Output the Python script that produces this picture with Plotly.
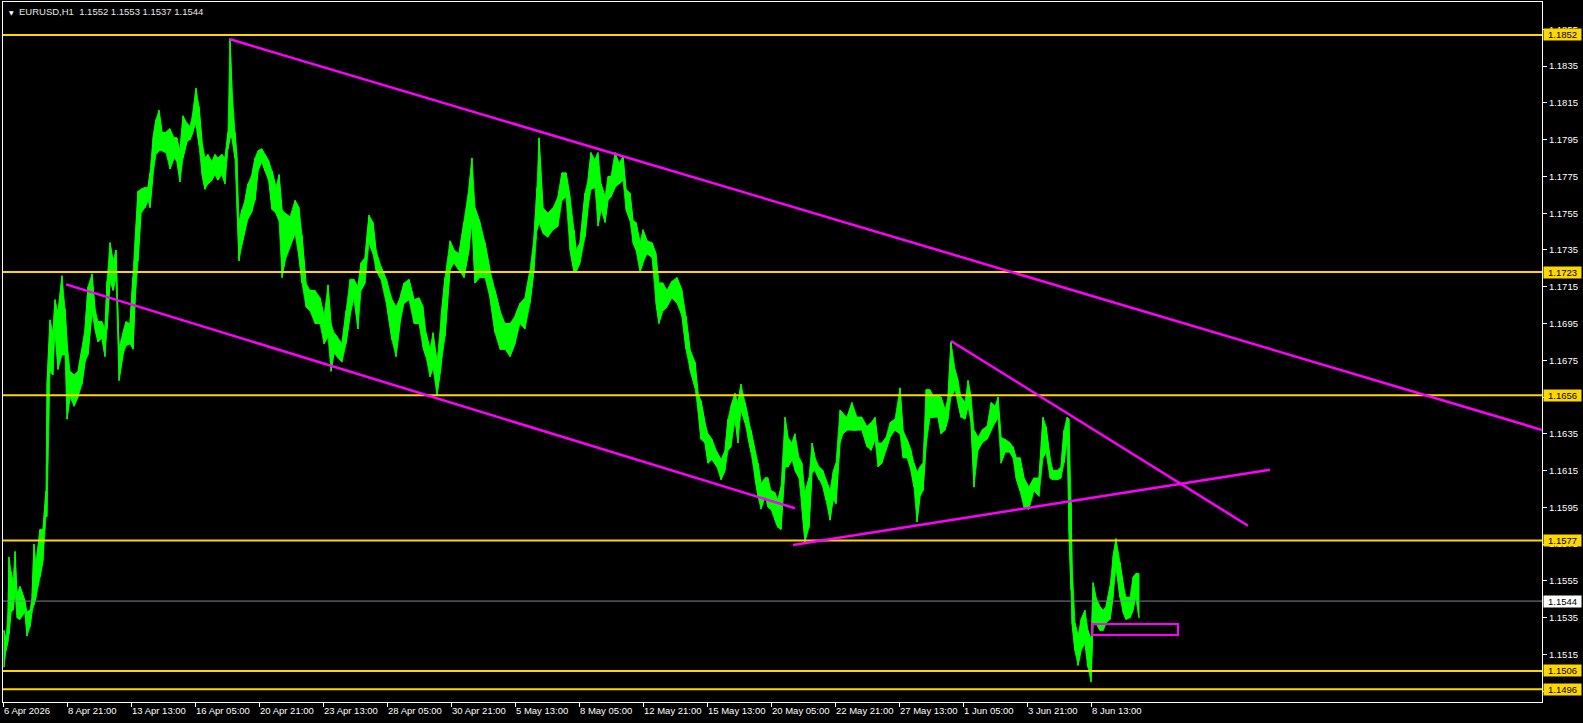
import plotly.graph_objects as go

# ---------------- data ----------------
symbol_title = "EURUSD,H1\u00a0\u00a01.1552 1.1553 1.1537 1.1544"

bar_idx = [
    1, 3, 5, 6, 8, 10, 12, 14, 17, 22,
    24, 27, 29, 31, 33, 37, 40, 43, 44, 47,
    50, 52, 55, 59, 62, 64, 67, 71, 75, 79,
    82, 85, 89, 92, 95, 99, 102, 104, 107, 110,
    113, 116, 120, 123, 127, 130, 132, 135, 138, 142,
    145, 147, 150, 153, 156, 159, 163, 167, 171, 174,
    177, 180, 184, 187, 190, 193, 196, 199, 202, 205,
    209, 212, 215, 219, 222, 225, 227, 229, 232, 234,
    236, 239, 242, 245, 249, 252, 255, 259, 262, 266,
    269, 273, 276, 279, 282, 287, 292, 296, 299, 303,
    307, 312, 317, 321, 325, 328, 331, 334, 339, 343,
    347, 351, 355, 358, 362, 366, 370, 373, 378, 384,
    389, 393, 397, 401, 406, 411, 416, 420, 423, 427,
    430, 434, 438, 442, 447, 451, 456, 461, 466, 469,
    472, 477, 482, 487, 492, 497, 502, 507, 512, 517,
    522, 527, 531, 534, 536, 540, 545, 550, 555, 559,
    563, 567, 571, 573, 577, 582, 585, 588, 592, 595,
    598, 602, 605, 608, 612, 616, 620, 623, 627, 630,
    633, 637, 640, 644, 649, 653, 656, 660, 664, 669,
    674, 679, 683, 687, 692, 695, 698, 702, 705, 709,
    714, 718, 722, 725, 728, 732, 735, 738, 742, 745,
    748, 752, 755, 758, 762, 765, 768, 772, 775, 778,
    782, 785, 789, 792, 796, 799, 802, 806, 809, 812,
    816, 820, 823, 827, 830, 833, 837, 840, 844, 849,
    854, 859, 864, 868, 872, 875, 879, 883, 887, 892,
    897, 900, 904, 908, 911, 914, 917, 920, 923, 927,
    931, 935, 938, 942, 945, 948, 952, 955, 958, 962,
    965, 968, 971, 975, 979, 984, 988, 992, 995, 998,
    1002, 1007, 1010, 1013, 1017, 1021, 1026, 1031, 1036, 1040,
    1043, 1047, 1050, 1054, 1058, 1061, 1064, 1066, 1068, 1069,
    1072, 1075, 1078, 1082, 1085, 1088, 1090, 1093, 1097, 1100,
    1103, 1107, 1110, 1113, 1117, 1120, 1123, 1127, 1130, 1133,
    1136,
]

bar_high = [
    1.1528, 1.1523, 1.1538, 1.1568, 1.1560, 1.1554, 1.1571, 1.1548, 1.1552, 1.1544,
    1.1538, 1.1539, 1.1546, 1.1575, 1.1564, 1.1583, 1.1583, 1.1604, 1.1662, 1.1697,
    1.1690, 1.1708, 1.1701, 1.1721, 1.1703, 1.1685, 1.1669, 1.1667, 1.1669, 1.1681,
    1.1692, 1.1715, 1.1722, 1.1703, 1.1696, 1.1696, 1.1692, 1.1718, 1.1739, 1.1729,
    1.1735, 1.1682, 1.1690, 1.1696, 1.1695, 1.1720, 1.1738, 1.1767, 1.1768, 1.1769,
    1.1769, 1.1777, 1.1796, 1.1806, 1.1811, 1.1799, 1.1799, 1.1801, 1.1796, 1.1796,
    1.1789, 1.1808, 1.1804, 1.1802, 1.1810, 1.1823, 1.1813, 1.1794, 1.1785, 1.1787,
    1.1783, 1.1787, 1.1785, 1.1787, 1.1785, 1.1799, 1.1850, 1.1822, 1.1799, 1.1785,
    1.1750, 1.1757, 1.1762, 1.1771, 1.1776, 1.1785, 1.1789, 1.1790, 1.1787, 1.1783,
    1.1778, 1.1769, 1.1776, 1.1757, 1.1755, 1.1753, 1.1762, 1.1758, 1.1743, 1.1717,
    1.1713, 1.1713, 1.1709, 1.1699, 1.1716, 1.1695, 1.1690, 1.1688, 1.1684, 1.1702,
    1.1719, 1.1719, 1.1715, 1.1728, 1.1731, 1.1754, 1.1750, 1.1735, 1.1726, 1.1718,
    1.1708, 1.1704, 1.1709, 1.1717, 1.1719, 1.1708, 1.1709, 1.1704, 1.1690, 1.1681,
    1.1690, 1.1674, 1.1699, 1.1720, 1.1740, 1.1735, 1.1733, 1.1750, 1.1769, 1.1785,
    1.1758, 1.1750, 1.1739, 1.1724, 1.1713, 1.1702, 1.1695, 1.1695, 1.1699, 1.1706,
    1.1709, 1.1724, 1.1742, 1.1769, 1.1796, 1.1758, 1.1755, 1.1758, 1.1764, 1.1777,
    1.1777, 1.1764, 1.1746, 1.1735, 1.1739, 1.1766, 1.1773, 1.1788, 1.1784, 1.1788,
    1.1771, 1.1764, 1.1775, 1.1775, 1.1788, 1.1782, 1.1786, 1.1768, 1.1766, 1.1751,
    1.1750, 1.1739, 1.1746, 1.1740, 1.1739, 1.1733, 1.1717, 1.1717, 1.1713, 1.1718,
    1.1720, 1.1713, 1.1699, 1.1681, 1.1674, 1.1657, 1.1653, 1.1641, 1.1635, 1.1632,
    1.1625, 1.1621, 1.1626, 1.1643, 1.1650, 1.1657, 1.1652, 1.1662, 1.1652, 1.1644,
    1.1637, 1.1625, 1.1619, 1.1608, 1.1611, 1.1611, 1.1604, 1.1603, 1.1599, 1.1606,
    1.1644, 1.1633, 1.1630, 1.1635, 1.1622, 1.1619, 1.1603, 1.1611, 1.1630, 1.1622,
    1.1617, 1.1615, 1.1610, 1.1604, 1.1614, 1.1619, 1.1648, 1.1646, 1.1644, 1.1652,
    1.1644, 1.1644, 1.1639, 1.1641, 1.1644, 1.1630, 1.1630, 1.1633, 1.1641, 1.1643,
    1.1660, 1.1637, 1.1632, 1.1626, 1.1619, 1.1614, 1.1617, 1.1619, 1.1659, 1.1659,
    1.1655, 1.1656, 1.1655, 1.1648, 1.1655, 1.1685, 1.1670, 1.1664, 1.1655, 1.1652,
    1.1664, 1.1655, 1.1637, 1.1633, 1.1637, 1.1639, 1.1652, 1.1650, 1.1655, 1.1633,
    1.1632, 1.1630, 1.1628, 1.1622, 1.1622, 1.1611, 1.1606, 1.1611, 1.1611, 1.1644,
    1.1639, 1.1622, 1.1615, 1.1615, 1.1617, 1.1637, 1.1644, 1.1643, 1.1599, 1.1565,
    1.1532, 1.1525, 1.1534, 1.1539, 1.1528, 1.1523, 1.1554, 1.1546, 1.1541, 1.1539,
    1.1541, 1.1552, 1.1568, 1.1578, 1.1565, 1.1554, 1.1546, 1.1546, 1.1557, 1.1559,
    1.1559,
]

bar_low = [
    1.1508, 1.1517, 1.1522, 1.1526, 1.1538, 1.1539, 1.1549, 1.1535, 1.1534, 1.1538,
    1.1525, 1.1530, 1.1538, 1.1542, 1.1546, 1.1557, 1.1566, 1.1590, 1.1590, 1.1669,
    1.1667, 1.1692, 1.1670, 1.1678, 1.1678, 1.1643, 1.1655, 1.1650, 1.1655, 1.1662,
    1.1674, 1.1678, 1.1701, 1.1692, 1.1685, 1.1687, 1.1677, 1.1692, 1.1718, 1.1713,
    1.1720, 1.1664, 1.1678, 1.1683, 1.1684, 1.1681, 1.1706, 1.1729, 1.1755, 1.1758,
    1.1762, 1.1758, 1.1776, 1.1787, 1.1789, 1.1789, 1.1788, 1.1779, 1.1785, 1.1783,
    1.1772, 1.1785, 1.1794, 1.1795, 1.1799, 1.1804, 1.1792, 1.1776, 1.1768, 1.1771,
    1.1773, 1.1776, 1.1773, 1.1776, 1.1771, 1.1790, 1.1796, 1.1796, 1.1785, 1.1760,
    1.1729, 1.1738, 1.1746, 1.1752, 1.1756, 1.1762, 1.1778, 1.1783, 1.1778, 1.1772,
    1.1757, 1.1755, 1.1751, 1.1720, 1.1729, 1.1737, 1.1744, 1.1731, 1.1717, 1.1704,
    1.1702, 1.1695, 1.1695, 1.1684, 1.1688, 1.1669, 1.1679, 1.1677, 1.1674, 1.1684,
    1.1699, 1.1709, 1.1692, 1.1713, 1.1717, 1.1739, 1.1733, 1.1724, 1.1719, 1.1704,
    1.1686, 1.1677, 1.1695, 1.1706, 1.1708, 1.1695, 1.1695, 1.1682, 1.1677, 1.1666,
    1.1671, 1.1656, 1.1671, 1.1688, 1.1724, 1.1728, 1.1724, 1.1720, 1.1735, 1.1750,
    1.1717, 1.1720, 1.1720, 1.1709, 1.1690, 1.1681, 1.1681, 1.1677, 1.1684, 1.1695,
    1.1692, 1.1706, 1.1724, 1.1746, 1.1750, 1.1744, 1.1742, 1.1746, 1.1748, 1.1762,
    1.1764, 1.1735, 1.1723, 1.1723, 1.1728, 1.1742, 1.1758, 1.1768, 1.1769, 1.1748,
    1.1757, 1.1750, 1.1762, 1.1764, 1.1769, 1.1771, 1.1773, 1.1757, 1.1751, 1.1739,
    1.1735, 1.1723, 1.1728, 1.1733, 1.1731, 1.1706, 1.1695, 1.1702, 1.1704, 1.1709,
    1.1706, 1.1699, 1.1681, 1.1670, 1.1660, 1.1648, 1.1632, 1.1630, 1.1619, 1.1621,
    1.1617, 1.1610, 1.1615, 1.1626, 1.1628, 1.1643, 1.1630, 1.1648, 1.1641, 1.1633,
    1.1625, 1.1611, 1.1601, 1.1594, 1.1601, 1.1595, 1.1594, 1.1588, 1.1584, 1.1583,
    1.1617, 1.1617, 1.1621, 1.1615, 1.1611, 1.1594, 1.1576, 1.1584, 1.1614, 1.1615,
    1.1610, 1.1606, 1.1599, 1.1588, 1.1599, 1.1597, 1.1630, 1.1635, 1.1637, 1.1637,
    1.1637, 1.1637, 1.1628, 1.1626, 1.1632, 1.1617, 1.1619, 1.1626, 1.1633, 1.1637,
    1.1635, 1.1622, 1.1622, 1.1615, 1.1606, 1.1587, 1.1601, 1.1604, 1.1628, 1.1644,
    1.1644, 1.1644, 1.1635, 1.1637, 1.1643, 1.1655, 1.1659, 1.1652, 1.1644, 1.1643,
    1.1650, 1.1641, 1.1606, 1.1626, 1.1630, 1.1632, 1.1637, 1.1641, 1.1644, 1.1619,
    1.1625, 1.1625, 1.1622, 1.1611, 1.1604, 1.1595, 1.1594, 1.1604, 1.1601, 1.1622,
    1.1625, 1.1611, 1.1610, 1.1610, 1.1611, 1.1619, 1.1632, 1.1581, 1.1550, 1.1532,
    1.1517, 1.1509, 1.1517, 1.1521, 1.1508, 1.1500, 1.1532, 1.1532, 1.1528, 1.1528,
    1.1532, 1.1534, 1.1546, 1.1563, 1.1546, 1.1538, 1.1534, 1.1535, 1.1539, 1.1546,
    1.1535,
]

# horizontal price levels and the current bid
levels = [1.1852, 1.1723, 1.1656, 1.1577, 1.1506, 1.1496]
bid_price = 1.1544

# trend lines: (bar0, price0, bar1, price1)
trend_lines = [
    (227, 1.18496, 1539, 1.16371),
    (63, 1.17163, 792, 1.15945),
    (948, 1.16855, 1245, 1.15850),
    (790, 1.15745, 1267, 1.16155),
]
# rectangle: (bar0, price_top, bar1, price_bottom)
rect_zone = (1089, 1.15315, 1175, 1.15256)

x_tick_bars = [0, 64, 128, 192, 256, 320, 384, 448, 512, 576, 640, 704, 768,
               832, 896, 960, 1024, 1088]
x_tick_labels = ["6 Apr 2026", "8 Apr 21:00", "13 Apr 13:00", "16 Apr 05:00",
                 "20 Apr 21:00", "23 Apr 13:00", "28 Apr 05:00", "30 Apr 21:00",
                 "5 May 13:00", "8 May 05:00", "12 May 21:00", "15 May 13:00",
                 "20 May 05:00", "22 May 21:00", "27 May 13:00", "1 Jun 05:00",
                 "3 Jun 21:00", "8 Jun 13:00"]
y_tick_vals = [round(1.1495 + 0.002 * k, 4) for k in range(19)]

# ---------------- figure ----------------
GREEN = "#00FF00"
GOLD = "#FFD700"
MAGENTA = "#FF00FF"
FONT = "Liberation Sans"

fig = go.Figure()

# price envelope (low / high) filled
fig.add_trace(go.Scatter(x=bar_idx, y=bar_low, mode="lines",
                         line=dict(color=GREEN, width=0.8), hoverinfo="skip",
                         showlegend=False))
fig.add_trace(go.Scatter(x=bar_idx, y=bar_high, mode="lines", fill="tonexty",
                         fillcolor=GREEN, line=dict(color=GREEN, width=0.8),
                         hoverinfo="skip", showlegend=False))

# vertical high-low strokes (zigzag)
zx, zy = [], []
for k, (b, h, l) in enumerate(zip(bar_idx, bar_high, bar_low)):
    zx += [b, b]
    zy += [l, h] if k % 2 == 0 else [h, l]
fig.add_trace(go.Scatter(x=zx, y=zy, mode="lines",
                         line=dict(color=GREEN, width=1), hoverinfo="skip",
                         showlegend=False))

shapes = []
for lv in levels:
    shapes.append(dict(type="line", xref="paper", x0=0, x1=1, yref="y",
                       y0=lv, y1=lv, line=dict(color=GOLD, width=2)))
shapes.append(dict(type="line", xref="paper", x0=0, x1=1, yref="y",
                   y0=bid_price, y1=bid_price,
                   line=dict(color="#778899", width=1)))
for b0, p0, b1, p1 in trend_lines:
    shapes.append(dict(type="line", xref="x", yref="y", x0=b0, y0=p0,
                       x1=b1, y1=p1, line=dict(color=MAGENTA, width=2.5)))
shapes.append(dict(type="rect", xref="x", yref="y", x0=rect_zone[0],
                   y0=rect_zone[1], x1=rect_zone[2], y1=rect_zone[3],
                   line=dict(color=MAGENTA, width=2)))

annotations = []
for lv in levels:
    annotations.append(dict(xref="paper", x=1, yref="y", y=lv, xanchor="left",
                            yanchor="middle", xshift=1, text=f"{lv:.4f}",
                            showarrow=False, bgcolor=GOLD, borderpad=0,
                            width=37, height=11, align="center",
                            font=dict(family=FONT, size=9.5, color="black")))
annotations.append(dict(xref="paper", x=1, yref="y", y=bid_price,
                        xanchor="left", yanchor="middle", xshift=1,
                        text=f"{bid_price:.4f}", showarrow=False,
                        bgcolor="white", borderpad=0,
                        width=37, height=11, align="center",
                        font=dict(family=FONT, size=9.5, color="black")))
annotations.append(dict(xref="paper", x=0, yref="paper", y=1, xanchor="left",
                        yanchor="top", xshift=4, yshift=-5, text="\u25BC",
                        showarrow=False,
                        font=dict(family="DejaVu Sans", size=6, color="white")))
annotations.append(dict(xref="paper", x=0, yref="paper", y=1, xanchor="left",
                        yanchor="top", xshift=14, yshift=-2, text=symbol_title,
                        showarrow=False,
                        font=dict(family=FONT, size=9.5, color="#E8E8E8")))

fig.update_layout(
    width=1583, height=723,
    margin=dict(l=3, r=41, t=2, b=21, autoexpand=False),
    paper_bgcolor="black", plot_bgcolor="black",
    showlegend=False,
    shapes=shapes, annotations=annotations,
    xaxis=dict(range=[0, 1539], showgrid=False, zeroline=False,
               showline=True, linecolor="white", linewidth=1, mirror=True,
               ticks="outside", ticklen=4, tickcolor="white",
               tickvals=x_tick_bars, ticktext=x_tick_labels, tickangle=0,
               ticklabelposition="outside right", automargin=False,
               tickfont=dict(family=FONT, size=9.5, color="white")),
    yaxis=dict(range=[1.14891, 1.18699], side="right", showgrid=False,
               zeroline=False, showline=True, linecolor="white", linewidth=1,
               mirror=True, ticks="outside", ticklen=4, tickcolor="white",
               tickvals=y_tick_vals, tickformat=".4f", automargin=False,
               tickfont=dict(family=FONT, size=9.5, color="white")),
)

fig.write_html(
    "out.html",
    config={"displayModeBar": False},
    post_script="document.body.style.margin='0px';"
                "document.body.style.background='black';",
)
